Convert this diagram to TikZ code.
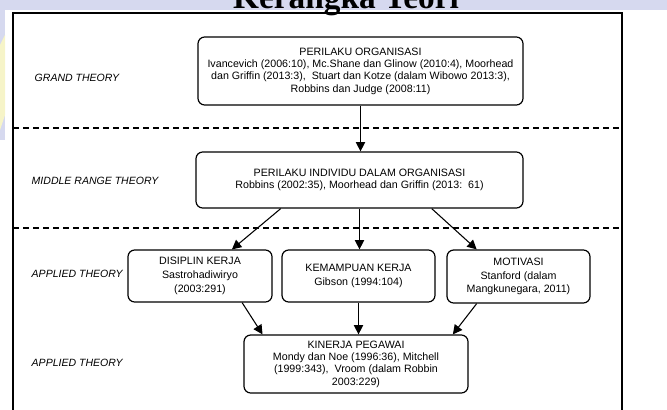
\documentclass[tikz,border=0pt]{standalone}
\usepackage{fontspec}
\setmainfont{Liberation Sans}
\newfontfamily\titlefont{Liberation Serif}
\usetikzlibrary{arrows.meta,calc}
\definecolor{lavender}{RGB}{214,217,239}
\definecolor{paleyellow}{RGB}{246,244,200}
\begin{document}
\begin{tikzpicture}[x=0.75pt,y=-0.75pt,
  kotak/.style={draw,line width=0.9pt,rounded corners=5pt,align=center,inner sep=0pt,font=\fontsize{8}{9.3}\selectfont},
  kotak3/.style={kotak,font=\fontsize{8}{10.4}\selectfont},
  teori/.style={anchor=west,font=\fontsize{7.9}{9}\selectfont\itshape},
  panah/.style={-{Triangle[width=7pt,length=7pt]},line width=0.8pt},
  batas/.style={dash pattern=on 4.5pt off 3pt,line width=0.8pt}]
\useasboundingbox (0,0) rectangle (667,410);
% latar
\fill[lavender] (0,0) rectangle (667,10);
\fill[lavender] (0,0) rectangle (5,140);
\fill[paleyellow] (0,45) -- (5,35) -- (5,115) -- (0,130) -- cycle;
\node[anchor=base,font=\titlefont\bfseries\fontsize{25}{25}\selectfont] (judul) at (346,9) {Kerangka Teori};
% bingkai
\draw[line width=0.9pt] (13,415) -- (13,13) -- (622,13) -- (622,415);
\draw[batas] (13,128) -- (622,128);
\draw[batas] (13,228) -- (622,228);
% tingkat teori
\node[teori] (grand) at (30,78) {GRAND THEORY};
\node[teori] (middle) at (27,181) {MIDDLE RANGE THEORY};
\node[teori] (applied1) at (27,274) {APPLIED THEORY};
\node[teori] (applied2) at (27,363) {APPLIED THEORY};
% kotak
\node[kotak,minimum width=243.75pt,minimum height=51pt] (b1) at (360.5,71)
  {PERILAKU ORGANISASI\\Ivancevich (2006:10), Mc.Shane dan Glinow (2010:4), Moorhead\\dan Griffin (2013:3),\ \ Stuart dan Kotze (dalam Wibowo 2013:3),\\Robbins dan Judge (2008:11)};
\node[kotak,minimum width=245.25pt,minimum height=42pt] (b2) at (359.5,180)
  {PERILAKU INDIVIDU DALAM ORGANISASI\\Robbins (2002:35), Moorhead dan Griffin (2013:\ \ 61)};
\node[kotak3,minimum width=108pt,minimum height=39pt] (dk) at (200,276)
  {DISIPLIN KERJA\\Sastrohadiwiryo\\(2003:291)};
\node[kotak3,minimum width=114.75pt,minimum height=39pt] (km) at (358.5,276)
  {KEMAMPUAN KERJA\\Gibson (1994:104)};
\node[kotak3,minimum width=107.25pt,minimum height=39.75pt] (mt) at (518.5,276.5)
  {MOTIVASI\\Stanford (dalam\\Mangkunegara, 2011)};
\node[kotak,minimum width=168pt,minimum height=43.5pt] (b4) at (356,364)
  {KINERJA PEGAWAI\\Mondy dan Noe (1996:36), Mitchell\\(1999:343),\ \ Vroom (dalam Robbin\\2003:229)};
% panah
\draw[panah] (b1.south) -- (b1.south |- b2.north);
\draw[panah] ($(b2.south west)!0.26!(b2.south east)$) -- ($(dk.north west)!0.72!(dk.north east)$);
\draw[panah] (b2.south) -- (b2.south |- km.north);
\draw[panah] ($(b2.south west)!0.72!(b2.south east)$) -- ($(mt.north west)!0.21!(mt.north east)$);
\draw[panah] ($(dk.south west)!0.79!(dk.south east)$) -- ($(b4.north west)!0.085!(b4.north east)$);
\draw[panah] (km.south) -- (km.south |- b4.north);
\draw[panah] ($(mt.south west)!0.21!(mt.south east)$) -- ($(b4.north west)!0.93!(b4.north east)$);
\end{tikzpicture}
\end{document}
